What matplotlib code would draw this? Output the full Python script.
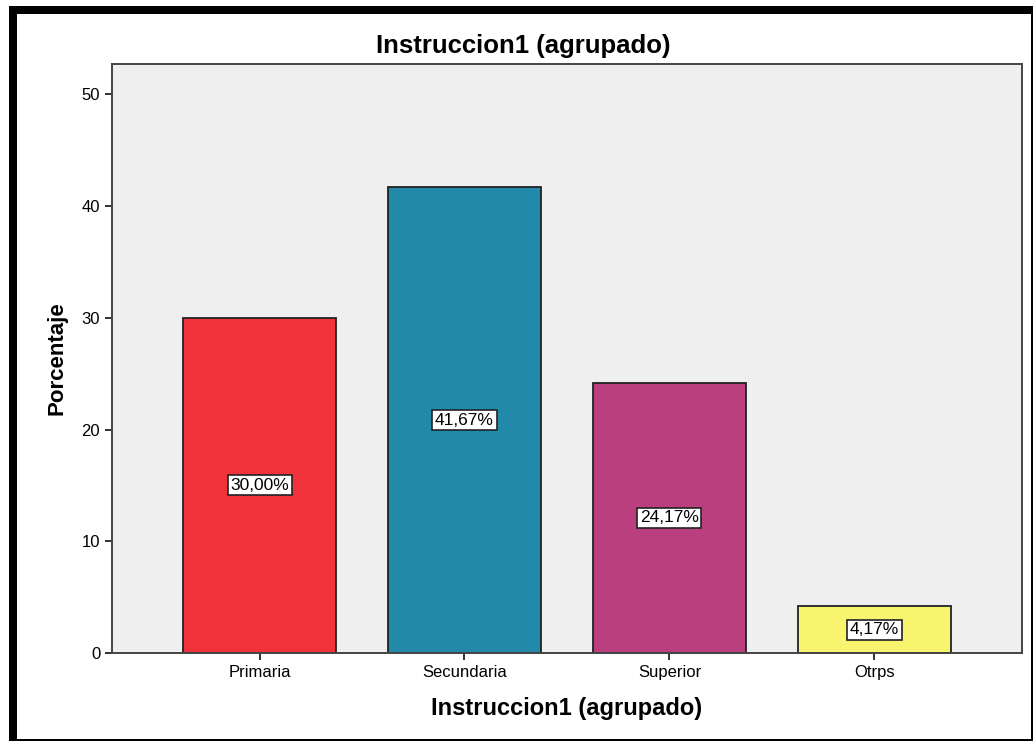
import matplotlib.pyplot as plt
from matplotlib.patches import Rectangle

plt.rcParams['font.family'] = ['Liberation Sans', 'DejaVu Sans']

categorias = ['Primaria', 'Secundaria', 'Superior', 'Otrps']
porcentajes = [30.00, 41.67, 24.17, 4.17]
colores = ['#F0333A', '#2389AA', '#BA3F7E', '#F8F46E']
yticks = [0, 10, 20, 30, 40, 50]

fig = plt.figure(figsize=(10.35, 7.42), dpi=100)
ax = fig.add_axes([0.1082, 0.1199, 0.8792, 0.7938])
ax.set_facecolor('#EFEFEF')

x = range(len(categorias))
ax.bar(x, porcentajes, width=0.746, color=colores, edgecolor='#222222', linewidth=1.3)

for i, v in enumerate(porcentajes):
    etiqueta = f'{v:.2f}%'.replace('.', ',')
    ax.text(i, v / 2, etiqueta, ha='center', va='center', fontsize=12.5,
            bbox=dict(boxstyle='square,pad=0.15', facecolor='white',
                      edgecolor='#222222', linewidth=1.2))

ax.set_xlim(-0.72, 3.72)
ax.set_ylim(0, 52.7)
ax.set_xticks(list(x))
ax.set_xticklabels(categorias, fontsize=12)
ax.set_yticks(yticks)
ax.set_yticklabels([str(t) for t in yticks], fontsize=12)
ax.tick_params(axis='both', direction='out', length=5, width=1.3, color='#222222')

for s in ax.spines.values():
    s.set_color('#444444')
    s.set_linewidth(1.4)

# título centrado en la figura, no en los ejes
fig.text(523 / 1035, 1 - 46 / 742, 'Instruccion1 (agrupado)', fontsize=18.5,
         fontweight='bold', ha='center', va='center')
ax.set_xlabel('Instruccion1 (agrupado)', fontsize=17, fontweight='bold', labelpad=12)
ax.set_ylabel('Porcentaje', fontsize=16, fontweight='bold', labelpad=10)

# marco negro alrededor del gráfico
W, H = 1035, 742
def px_rect(x0, y0, w, h):
    fig.patches.append(Rectangle((x0 / W, 1 - (y0 + h) / H), w / W, h / H,
                                 transform=fig.transFigure, facecolor='black',
                                 edgecolor='none', zorder=10))

px_rect(9, 6, 1024, 8)
px_rect(9, 6, 8, 735)
px_rect(1031, 6, 2, 735)
px_rect(9, 739, 1024, 2)

fig.savefig('out.png', dpi=100)
